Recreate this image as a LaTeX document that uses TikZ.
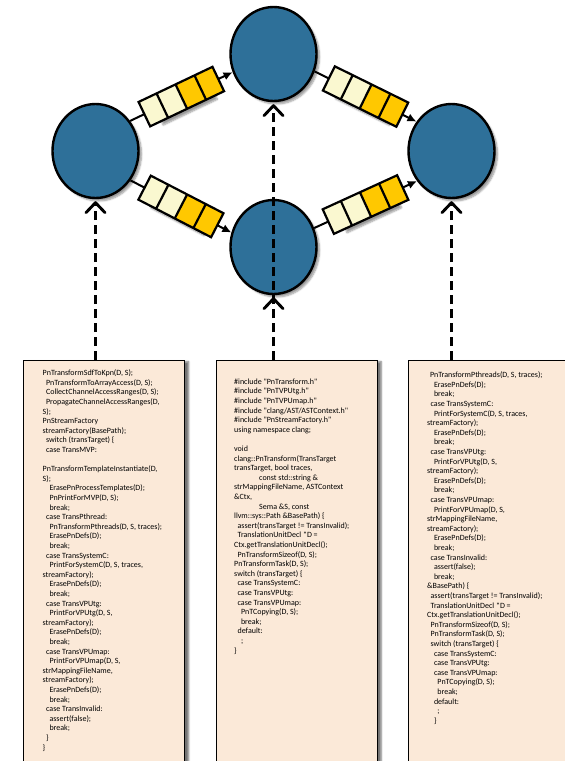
\documentclass[tikz,border=0pt]{standalone}
\usepackage{fontspec}
\newfontfamily\codefont{Carlito}
\usetikzlibrary{arrows.meta,shapes.geometric,shapes.multipart,shadows.blur}

\definecolor{procblue}{RGB}{46,112,153}
\definecolor{codepeach}{RGB}{251,233,216}
\definecolor{tokcream}{RGB}{250,248,208}
\definecolor{tokgold}{RGB}{255,200,0}

% indentation of code lines
\newlength\lvlstep
\setlength\lvlstep{3.4pt}
\newcommand\lvl[1]{\hspace*{#1\lvlstep}}

\tikzset{
  softshadow/.style={blur shadow={shadow xshift=3pt, shadow yshift=-3pt,
      shadow blur steps=6, shadow opacity=40}},
  proc/.style={ellipse, draw=black, line width=2.4pt, fill=procblue,
    minimum width=86pt, minimum height=94pt, inner sep=0pt, softshadow},
  channel/.style={line width=2pt, -{Latex[length=9pt,width=8.5pt]}},
  fifoshade/.style={rectangle, sloped, inner sep=0pt, minimum width=60pt,
    minimum height=28pt, softshadow},
  fifo/.style={rectangle split, rectangle split horizontal,
    rectangle split parts=4,
    rectangle split part fill={tokcream,tokcream,tokgold,tokgold},
    rectangle split empty part width=14.5pt,
    draw=black, line width=2.2pt, inner sep=0pt, minimum height=27pt,
    sloped},
  mapping/.style={line width=2.6pt, dash pattern=on 9pt off 5pt,
    -{Straight Barb[length=10pt,width=19pt,line width=2.9pt,round]},
    shorten >=2pt},
  codebox/.style={draw=black, line width=1.4pt, fill=codepeach,
    anchor=north west, inner sep=0pt, minimum height=420pt,
    blur shadow={shadow xshift=4pt, shadow yshift=-1pt,
      shadow blur steps=6, shadow opacity=55}},
  code/.style={anchor=north west, align=left, inner sep=0pt,
    font=\codefont\fontsize{8pt}{9.6pt}\selectfont, text=black},
}

\begin{document}
\begin{tikzpicture}[x=1pt,y=-1pt]
\useasboundingbox (0,0) rectangle (565,761);
\clip (0,0) rectangle (565,761);

% source code panels
\node[codebox, minimum width=161pt] (boxL) at (23,360) {};
\node[codebox, minimum width=161pt] (boxM) at (215.5,360) {};
\node[codebox, minimum width=180pt] (boxR) at (408,360) {};

% processes
\node[proc] (pL) at (95.5,151) {};
\node[proc] (pT) at (273.5,54) {};
\node[proc] (pB) at (273.5,247) {};
\node[proc] (pR) at (451.5,151) {};

% channels with their FIFO buffers
\draw[channel] (pL.41) -- node[fifoshade, pos=.5] (q1s) {}
  node[fifo, pos=.5] (q1) {\nodepart{two}\nodepart{three}\nodepart{four}} (pT.204);
\draw[channel] (pL.320) -- node[fifoshade, pos=.5] (q2s) {}
  node[fifo, pos=.5] (q2) {\nodepart{two}\nodepart{three}\nodepart{four}} (pB.161);
\draw[channel] (pT.337) -- node[fifoshade, pos=.5] (q3s) {}
  node[fifo, pos=.5] (q3) {\nodepart{two}\nodepart{three}\nodepart{four}} (pR.140);
\draw[channel] (pB.25) -- node[fifoshade, pos=.5] (q4s) {}
  node[fifo, pos=.5] (q4) {\nodepart{two}\nodepart{three}\nodepart{four}} (pR.221);

% code-to-process mapping
\draw[mapping] (boxL.north -| pL.south) -- (pL.south);
\draw[mapping] (boxM.north -| pB.south) -- (pB.south);
\draw[mapping] (boxM.north -| pT.south) -- (pT.south);
\draw[mapping] (boxR.north -| pR.south) -- (pR.south);

% code listings
\node[code] (txtL) at (42.5,369.6) {%
PnTransformSdfToKpn(D, S);\\
\lvl1PnTransformToArrayAccess(D, S);\\
\lvl1CollectChannelAccessRanges(D, S);\\
\lvl1PropagateChannelAccessRanges(D,\\
S);\\
PnStreamFactory\\
streamFactory(BasePath);\\
\lvl1switch (transTarget) \{\\
\lvl1case TransMVP:\\[9.6pt]
PnTransformTemplateInstantiate(D,\\
S);\\
\lvl2ErasePnProcessTemplates(D);\\
\lvl2PnPrintForMVP(D, S);\\
\lvl2break;\\
\lvl1case TransPthread:\\
\lvl2PnTransformPthreads(D, S, traces);\\
\lvl2ErasePnDefs(D);\\
\lvl2break;\\
\lvl1case TransSystemC:\\
\lvl2PrintForSystemC(D, S, traces,\\
streamFactory);\\
\lvl2ErasePnDefs(D);\\
\lvl2break;\\
\lvl1case TransVPUtg:\\
\lvl2PrintForVPUtg(D, S,\\
streamFactory);\\
\lvl2ErasePnDefs(D);\\
\lvl2break;\\
\lvl1case TransVPUmap:\\
\lvl2PrintForVPUmap(D, S,\\
strMappingFileName,\\
streamFactory);\\
\lvl2ErasePnDefs(D);\\
\lvl2break;\\
\lvl1case TransInvalid:\\
\lvl2assert(false);\\
\lvl2break;\\
\lvl1\}\\
\}};

\node[code] (txtM) at (234,378.6) {%
\#include "PnTransform.h"\\
\#include "PnTVPUtg.h"\\
\#include "PnTVPUmap.h"\\
\#include "clang/AST/ASTContext.h"\\
\#include "PnStreamFactory.h"\\
using namespace clang;\\[9.6pt]
void\\
clang::PnTransform(TransTarget\\
transTarget, bool traces,\\
\hspace*{25pt}const std::string \&\\
strMappingFileName, ASTContext\\
\&Ctx,\\
\hspace*{25pt}Sema \&S, const\\
llvm::sys::Path \&BasePath) \{\\
\lvl1assert(transTarget != TransInvalid);\\
\lvl1TranslationUnitDecl *D =\\
Ctx.getTranslationUnitDecl();\\
\lvl1PnTransformSizeof(D, S);\\
PnTransformTask(D, S);\\
switch (transTarget) \{\\
\lvl1case TransSystemC:\\
\lvl1case TransVPUtg:\\
\lvl1case TransVPUmap:\\
\lvl2PnTCopying(D, S);\\
\lvl2break;\\
\lvl1default:\\
\lvl2;\\
\}};

\node[code] (txtR) at (427,371.6) {\setlength\lvlstep{2.8pt}%
\lvl1PnTransformPthreads(D, S, traces);\\
\lvl2ErasePnDefs(D);\\
\lvl2break;\\
\lvl1case TransSystemC:\\
\lvl2PrintForSystemC(D, S, traces,\\
streamFactory);\\
\lvl2ErasePnDefs(D);\\
\lvl2break;\\
\lvl1case TransVPUtg:\\
\lvl2PrintForVPUtg(D, S,\\
streamFactory);\\
\lvl2ErasePnDefs(D);\\
\lvl2break;\\
\lvl1case TransVPUmap:\\
\lvl2PrintForVPUmap(D, S,\\
strMappingFileName,\\
streamFactory);\\
\lvl2ErasePnDefs(D);\\
\lvl2break;\\
\lvl1case TransInvalid:\\
\lvl2assert(false);\\
\lvl2break;\\
\&BasePath) \{\\
\lvl1assert(transTarget != TransInvalid);\\
\lvl1TranslationUnitDecl *D =\\
Ctx.getTranslationUnitDecl();\\
\lvl1PnTransformSizeof(D, S);\\
\lvl1PnTransformTask(D, S);\\
\lvl1switch (transTarget) \{\\
\lvl2case TransSystemC:\\
\lvl2case TransVPUtg:\\
\lvl2case TransVPUmap:\\
\lvl3PnTCopying(D, S);\\
\lvl3break;\\
\lvl2default:\\
\lvl3;\\
\lvl2\}};
\end{tikzpicture}
\end{document}
